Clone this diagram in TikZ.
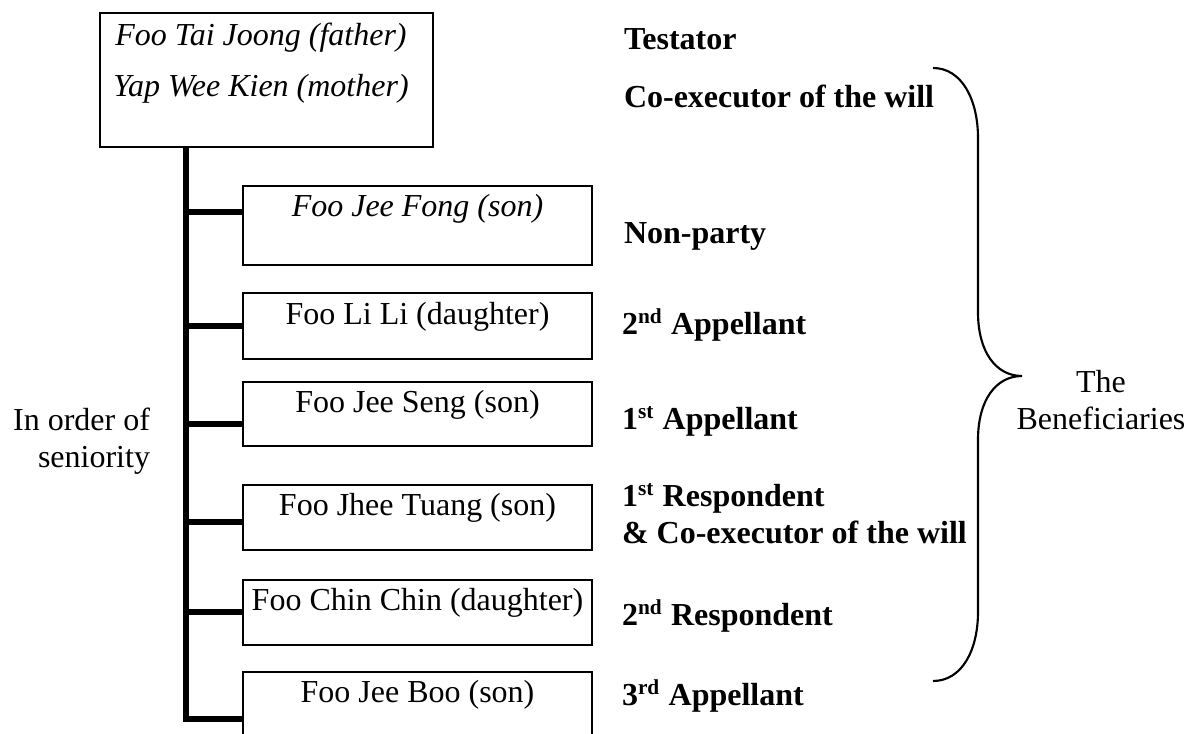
\documentclass[tikz,border=0pt]{standalone}
\usepackage{fontspec}
\setmainfont{Liberation Serif}
\newlength\pxu
\setlength\pxu{0.375pt}
\newcommand\bodysize{\fontsize{12pt}{13.8pt}\selectfont}
\begin{document}
\begin{tikzpicture}[x=0.375pt, y=-0.375pt,
  every node/.style={inner sep=0pt, outer sep=0pt},
  famtext/.style={font=\bodysize, anchor=base},
  roletext/.style={font=\bodysize\bfseries, anchor=base west},
  sidetext/.style={font=\bodysize},
  boxline/.style={draw, line width=0.7pt, anchor=north west},
  kidbox/.style={boxline, minimum width=349\pxu},
  trunk/.style={line width=1.9pt, line join=miter},
  bracepath/.style={line width=0.8pt}
]
\useasboundingbox (0,0) rectangle (1202,734);
\clip (0,0) rectangle (1202,734);

% parents
\node[boxline, minimum width=333\pxu, minimum height=134\pxu] (top) at (100,13) {};
\node[famtext] (father) at (261,46) {\itshape Foo Tai Joong (father)};
\node[famtext] (mother) at (261,97) {\itshape Yap Wee Kien (mother)};

% children boxes
\node[kidbox, minimum height=79\pxu] (b1) at (243,186) {};
\node[kidbox, minimum height=66\pxu] (b2) at (243,293) {};
\node[kidbox, minimum height=64\pxu] (b3) at (243,382) {};
\node[kidbox, minimum height=65\pxu] (b4) at (243,485) {};
\node[kidbox, minimum height=65\pxu] (b5) at (243,580) {};
\node[kidbox, minimum height=90\pxu] (b6) at (243,672) {};

\node[famtext] (n1) at (417.5,217) {\itshape Foo Jee Fong (son)};
\node[famtext] (n2) at (417.5,325) {Foo Li Li (daughter)};
\node[famtext] (n3) at (417.5,413) {Foo Jee Seng (son)};
\node[famtext] (n4) at (417.5,516) {Foo Jhee Tuang (son)};
\node[famtext] (n5) at (417.5,611) {Foo Chin Chin (daughter)};
\node[famtext] (n6) at (417.5,703) {Foo Jee Boo (son)};

% tree connectors
\coordinate (j1) at (186,212);
\coordinate (j2) at (186,326);
\coordinate (j3) at (186,424);
\coordinate (j4) at (186,522);
\coordinate (j5) at (186,612);
\coordinate (j6) at (186,719);
\draw[trunk] (top.south -| j1) -- (j6) -- (j6 -| b6.west);
\foreach \i in {1,...,5}{\draw[trunk] (j\i) -- (j\i -| b\i.west);}

% roles
\node[roletext] (r0) at (624,50) {Testator};
\node[roletext] (r00) at (624,108) {Co-executor of the will};
\node[roletext] (r1) at (624,244) {Non-party};
\node[roletext] (r2) at (622,335) {2\textsuperscript{nd} Appellant};
\node[roletext] (r3) at (622,430) {1\textsuperscript{st} Appellant};
\node[roletext] (r4) at (622,507) {\begin{tabular}[t]{@{}l@{}}1\textsuperscript{st} Respondent\\ \& Co-executor of the will\end{tabular}};
\node[roletext] (r5) at (622,626) {2\textsuperscript{nd} Respondent};
\node[roletext] (r6) at (622,706) {3\textsuperscript{rd} Appellant};

% side labels
\node[sidetext, anchor=base east] (order) at (150,431) {\begin{tabular}[t]{@{}r@{}}In order of\\ seniority\end{tabular}};
\node[sidetext, anchor=base] (benef) at (1101,393) {\begin{tabular}[t]{@{}c@{}}The\\ Beneficiaries\end{tabular}};

% brace
\coordinate (bt) at (933,68);
\coordinate (tip) at (1022,376);
\coordinate (bb) at (933,681);
\draw[bracepath] (bt) .. controls (962,68) and (978,100) .. (978,138)
  -- (978,312) .. controls (978,352) and (996,376) .. (tip)
  .. controls (996,376) and (978,400) .. (978,440)
  -- (978,612) .. controls (978,650) and (962,681) .. (bb);
\end{tikzpicture}
\end{document}
